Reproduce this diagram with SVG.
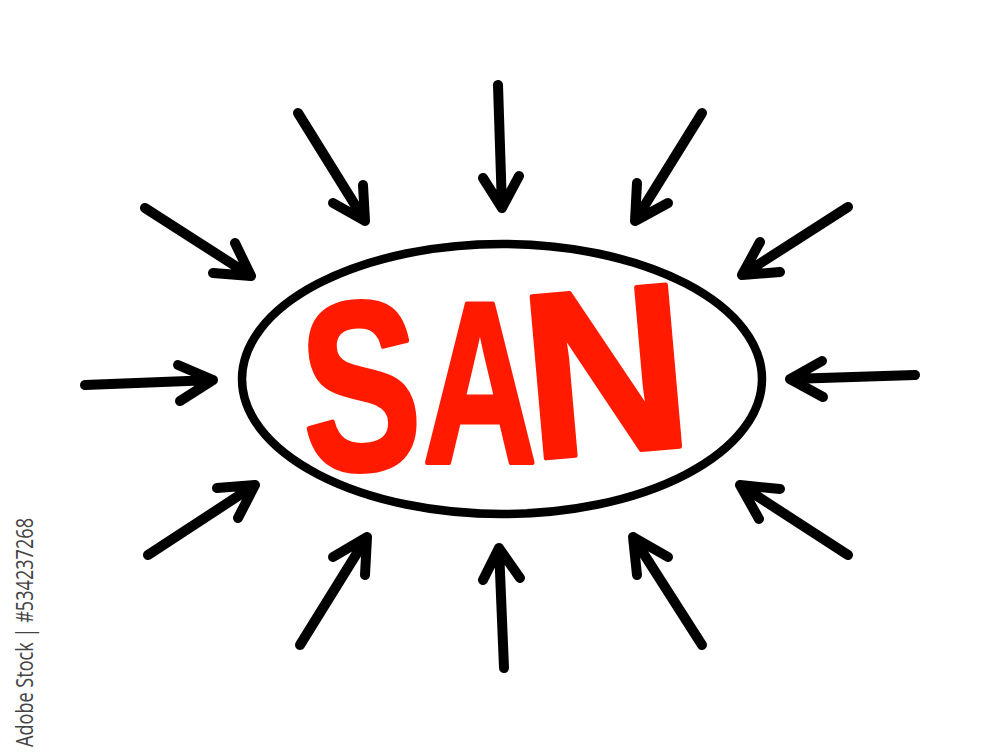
<svg xmlns="http://www.w3.org/2000/svg" width="1000" height="756" viewBox="0 0 1000 756">
<style>
.arr{fill:none;stroke:#000;stroke-width:10;stroke-linecap:round;stroke-linejoin:round}
.lbl{font-family:"Liberation Sans",Arial,sans-serif;font-weight:bold;font-size:240px;fill:#ff1a00;stroke:#ff1a00;stroke-width:5;stroke-linejoin:round}
.side{font-family:"Open Sans","Liberation Sans",sans-serif;font-size:24px;fill:#444}
</style>
<rect width="1000" height="756" fill="#fff"/>
<g id="center">
<ellipse cx="502" cy="379" rx="260" ry="135" fill="none" stroke="#000" stroke-width="8.5"/>
<text class="lbl" text-anchor="middle" transform="translate(365,469) rotate(-3) scale(0.74,1)">S</text>
<text class="lbl" text-anchor="middle" transform="translate(480,463) scale(0.66,0.96)">A</text>
<text class="lbl" text-anchor="middle" transform="translate(613,452) rotate(-5) scale(0.95,0.98)">N</text>
</g>
<g id="connectors">
<path class="arr" d="M298,113 L365,221 M363,185 L365,221 L333,203"/>
<path class="arr" d="M145,208 L251,276 M235,243 L251,276 L213,273"/>
<path class="arr" d="M498,85 L502,208 M483,178 L502,208 L519,176"/>
<path class="arr" d="M702,113 L635,221 M637,183 L635,221 L668,203"/>
<path class="arr" d="M848,207 L742,275 M760,242 L742,275 L780,272"/>
<path class="arr" d="M85,385 L213,380 M178,365 L213,380 L180,401"/>
<path class="arr" d="M915,375 L790,379 M822,361 L790,379 L823,397"/>
<path class="arr" d="M148,555 L255,485 M217,488 L255,485 L238,518"/>
<path class="arr" d="M300,645 L367,537 M333,557 L367,537 L365,575"/>
<path class="arr" d="M504,668 L499,548 M483,580 L499,548 L520,578"/>
<path class="arr" d="M702,645 L633,537 M668,557 L633,537 L637,575"/>
<path class="arr" d="M848,555 L740,485 M780,489 L740,485 L759,519"/>
</g>
<text class="side" transform="translate(33,747) rotate(-90)" textLength="229" lengthAdjust="spacingAndGlyphs">Adobe Stock | #534237268</text>
</svg>
